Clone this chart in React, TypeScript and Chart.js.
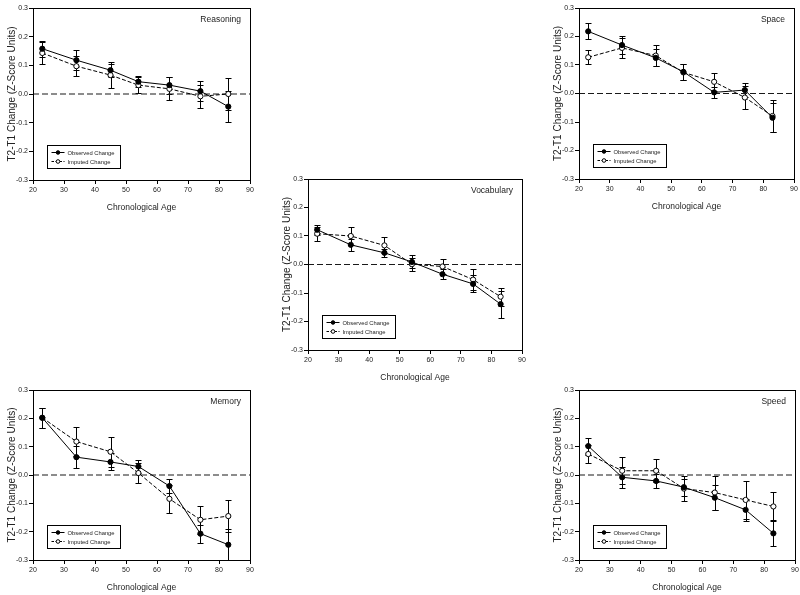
import React, { useEffect, useRef } from "react";
import { Chart, registerables } from "chart.js";

Chart.register(...registerables);

const FONT = "'Liberation Sans', Arial, sans-serif";

const ages = [23, 34, 45, 54, 64, 74, 83];
const xTicks = [20, 30, 40, 50, 60, 70, 80, 90];
const yTicks = [-0.3, -0.2, -0.1, 0, 0.1, 0.2, 0.3];
const zeroLineX = [20, 90];

const reasoningObserved = [0.158, 0.118, 0.083, 0.043, 0.031, 0.01, -0.044];
const reasoningObservedErr = [0.028, 0.035, 0.023, 0.02, 0.03, 0.035, 0.055];
const reasoningImputed = [0.143, 0.097, 0.066, 0.031, 0.018, -0.008, 0.0];
const reasoningImputedErr = [0.04, 0.035, 0.045, 0.027, 0.04, 0.04, 0.055];

const spaceObserved = [0.218, 0.17, 0.125, 0.076, 0.004, 0.012, -0.085];
const spaceObservedErr = [0.028, 0.03, 0.03, 0.028, 0.02, 0.025, 0.05];
const spaceImputed = [0.127, 0.16, 0.133, 0.074, 0.041, -0.014, -0.079];
const spaceImputedErr = [0.024, 0.035, 0.038, 0.028, 0.032, 0.04, 0.055];

const vocabularyObserved = [0.122, 0.069, 0.041, 0.009, -0.034, -0.068, -0.139];
const vocabularyObservedErr = [0.018, 0.022, 0.015, 0.023, 0.017, 0.03, 0.047];
const vocabularyImputed = [0.108, 0.1, 0.067, 0.001, -0.007, -0.053, -0.113];
const vocabularyImputedErr = [0.025, 0.032, 0.028, 0.023, 0.025, 0.038, 0.032];

const memoryObserved = [0.202, 0.063, 0.046, 0.03, -0.039, -0.207, -0.246];
const memoryObservedErr = [0.035, 0.04, 0.03, 0.023, 0.025, 0.032, 0.055];
const memoryImputed = [0.202, 0.118, 0.082, 0.007, -0.084, -0.158, -0.145];
const memoryImputedErr = [0.035, 0.05, 0.053, 0.037, 0.05, 0.05, 0.057];

const speedObserved = [0.102, -0.008, -0.021, -0.043, -0.08, -0.123, -0.206];
const speedObservedErr = [0.03, 0.037, 0.025, 0.03, 0.043, 0.039, 0.046];
const speedImputed = [0.074, 0.015, 0.015, -0.048, -0.062, -0.088, -0.111];
const speedImputedErr = [0.032, 0.048, 0.041, 0.043, 0.06, 0.068, 0.05];

const legendLabels = ["Observed Change", "Imputed Change"];
const xTitle = "Chronological Age";
const yTitle = "T2-T1 Change (Z-Score Units)";

const Y_AXIS_W = 36;
const X_AXIS_H = 36;
const PAD_TOP = 8;
const PAD_RIGHT = 6;

const errorBarPlugin = {
  id: "errorBars",
  beforeDatasetsDraw(chart: any) {
    const { ctx, scales } = chart;
    const x = scales.x;
    const y = scales.y;
    ctx.save();
    ctx.strokeStyle = "#000";
    ctx.lineWidth = 1;
    chart.data.datasets.forEach((ds: any) => {
      if (!ds.errors) return;
      ds.data.forEach((p: any, i: number) => {
        const e = ds.errors[i];
        const px = Math.round(x.getPixelForValue(p.x)) + 0.5;
        const yt = Math.round(y.getPixelForValue(p.y + e)) + 0.5;
        const yb = Math.round(y.getPixelForValue(p.y - e)) + 0.5;
        ctx.beginPath();
        ctx.moveTo(px, yt);
        ctx.lineTo(px, yb);
        ctx.moveTo(px - 3, yt);
        ctx.lineTo(px + 3, yt);
        ctx.moveTo(px - 3, yb);
        ctx.lineTo(px + 3, yb);
        ctx.stroke();
      });
    });
    ctx.restore();
  },
};

const decorPlugin = {
  id: "decor",
  afterDraw(chart: any) {
    const { ctx, chartArea } = chart;
    const opts = chart.options.plugins.decor || {};
    ctx.save();
    // frame
    ctx.strokeStyle = "#000";
    ctx.lineWidth = 1;
    ctx.strokeRect(
      Math.round(chartArea.left) + 0.5,
      Math.round(chartArea.top) + 0.5,
      Math.round(chartArea.right - chartArea.left),
      Math.round(chartArea.bottom - chartArea.top)
    );
    // panel title
    ctx.fillStyle = "#222";
    ctx.font = `8.5px ${FONT}`;
    ctx.textAlign = "right";
    ctx.textBaseline = "middle";
    ctx.fillText(opts.title || "", chartArea.right - 9, chartArea.top + 12);
    // legend
    const bw = 73;
    const bh = 23;
    const bx = Math.round(chartArea.left + 14) + 0.5;
    const by = Math.round(chartArea.bottom - 12 - bh) + 0.5;
    ctx.fillStyle = "#fff";
    ctx.fillRect(bx, by, bw, bh);
    ctx.strokeStyle = "#000";
    ctx.lineWidth = 1;
    ctx.strokeRect(bx, by, bw, bh);
    const rows = [by + 7, by + 16];
    ctx.font = `5.8px ${FONT}`;
    ctx.textAlign = "left";
    ctx.textBaseline = "middle";
    rows.forEach((ry, i) => {
      ctx.beginPath();
      ctx.setLineDash(i === 0 ? [] : [2.5, 1.5]);
      ctx.moveTo(bx + 4, ry);
      ctx.lineTo(bx + 17, ry);
      ctx.stroke();
      ctx.setLineDash([]);
      ctx.beginPath();
      ctx.arc(bx + 10.5, ry, 1.8, 0, Math.PI * 2);
      ctx.fillStyle = i === 0 ? "#000" : "#fff";
      ctx.fill();
      ctx.stroke();
      ctx.fillStyle = "#222";
      ctx.fillText(legendLabels[i], bx + 20, ry + 0.5);
    });
    ctx.restore();
  },
};

type PanelProps = {
  title: string;
  observed: number[];
  observedErr: number[];
  imputed: number[];
  imputedErr: number[];
  plotLeft: number;
  plotTop: number;
  plotW: number;
  plotH: number;
};

function Panel(props: PanelProps) {
  const ref = useRef<HTMLCanvasElement | null>(null);
  const width = Y_AXIS_W + props.plotW + PAD_RIGHT;
  const height = PAD_TOP + props.plotH + X_AXIS_H;

  useEffect(() => {
    if (!ref.current) return;
    const toPts = (vals: number[]) => vals.map((v, i) => ({ x: ages[i], y: v }));
    const chart = new Chart(ref.current, {
      type: "line",
      data: {
        datasets: [
          {
            label: legendLabels[0],
            data: toPts(props.observed),
            errors: props.observedErr,
            borderColor: "#000",
            borderWidth: 1,
            pointRadius: 2.6,
            pointBackgroundColor: "#000",
            pointBorderColor: "#000",
            pointBorderWidth: 1,
            tension: 0,
          } as any,
          {
            label: legendLabels[1],
            data: toPts(props.imputed),
            errors: props.imputedErr,
            borderColor: "#000",
            borderWidth: 1,
            borderDash: [4, 2],
            pointRadius: 2.6,
            pointBackgroundColor: "#fff",
            pointBorderColor: "#000",
            pointBorderWidth: 1,
            tension: 0,
          } as any,
          {
            label: "zero",
            data: zeroLineX.map((x) => ({ x, y: 0 })),
            borderColor: "#1a1a1a",
            borderWidth: 1.2,
            borderDash: [6, 3],
            pointRadius: 0,
            tension: 0,
          } as any,
        ],
      },
      options: {
        animation: false,
        responsive: false,
        maintainAspectRatio: false,
        devicePixelRatio: 1,
        events: [],
        layout: { padding: { top: PAD_TOP, right: PAD_RIGHT, left: 0, bottom: 0 } },
        plugins: {
          legend: { display: false },
          tooltip: { enabled: false },
          decor: { title: props.title },
        } as any,
        scales: {
          x: {
            type: "linear",
            min: 20,
            max: 90,
            afterBuildTicks: (s: any) => {
              s.ticks = xTicks.map((v) => ({ value: v }));
            },
            afterFit: (s: any) => {
              s.height = X_AXIS_H;
            },
            grid: {
              display: true,
              drawOnChartArea: false,
              drawTicks: true,
              tickLength: 4,
              color: "#000",
              lineWidth: 1,
            },
            border: { display: true, color: "#000", width: 1 },
            ticks: {
              font: { family: FONT, size: 7 },
              color: "#222",
              padding: 2,
              maxRotation: 0,
              autoSkip: false,
              callback: (v: any) => String(v),
            },
            title: {
              display: true,
              text: xTitle,
              font: { family: FONT, size: 8.5 },
              color: "#222",
              padding: { top: 0, bottom: 3 },
            },
          },
          y: {
            type: "linear",
            min: -0.3,
            max: 0.3,
            afterBuildTicks: (s: any) => {
              s.ticks = yTicks.map((v) => ({ value: v }));
            },
            afterFit: (s: any) => {
              s.width = Y_AXIS_W;
            },
            grid: {
              display: true,
              drawOnChartArea: false,
              drawTicks: true,
              tickLength: 4,
              color: "#000",
              lineWidth: 1,
            },
            border: { display: true, color: "#000", width: 1 },
            ticks: {
              font: { family: FONT, size: 7 },
              color: "#222",
              padding: 1,
              autoSkip: false,
              callback: (v: any) => Number(v).toFixed(1),
            },
            title: {
              display: true,
              text: yTitle,
              font: { family: FONT, size: 10 },
              color: "#222",
              padding: { top: 9, bottom: 0 },
            },
          },
        },
      } as any,
      plugins: [errorBarPlugin, decorPlugin],
    });
    return () => chart.destroy();
  }, []);

  return (
    <canvas
      ref={ref}
      width={width}
      height={height}
      style={{
        position: "absolute",
        left: props.plotLeft - Y_AXIS_W,
        top: props.plotTop - PAD_TOP,
        width,
        height,
      }}
    />
  );
}

export default function App() {
  return (
    <div
      style={{
        position: "fixed",
        left: 0,
        top: 0,
        width: 800,
        height: 595,
        overflow: "hidden",
        background: "#fff",
      }}
    >
      <Panel
        title="Reasoning"
        observed={reasoningObserved}
        observedErr={reasoningObservedErr}
        imputed={reasoningImputed}
        imputedErr={reasoningImputedErr}
        plotLeft={33}
        plotTop={8}
        plotW={217}
        plotH={172}
      />
      <Panel
        title="Space"
        observed={spaceObserved}
        observedErr={spaceObservedErr}
        imputed={spaceImputed}
        imputedErr={spaceImputedErr}
        plotLeft={579}
        plotTop={8}
        plotW={215}
        plotH={171}
      />
      <Panel
        title="Vocabulary"
        observed={vocabularyObserved}
        observedErr={vocabularyObservedErr}
        imputed={vocabularyImputed}
        imputedErr={vocabularyImputedErr}
        plotLeft={308}
        plotTop={179}
        plotW={214}
        plotH={171}
      />
      <Panel
        title="Memory"
        observed={memoryObserved}
        observedErr={memoryObservedErr}
        imputed={memoryImputed}
        imputedErr={memoryImputedErr}
        plotLeft={33}
        plotTop={390}
        plotW={217}
        plotH={170}
      />
      <Panel
        title="Speed"
        observed={speedObserved}
        observedErr={speedObservedErr}
        imputed={speedImputed}
        imputedErr={speedImputedErr}
        plotLeft={579}
        plotTop={390}
        plotW={216}
        plotH={170}
      />
    </div>
  );
}
